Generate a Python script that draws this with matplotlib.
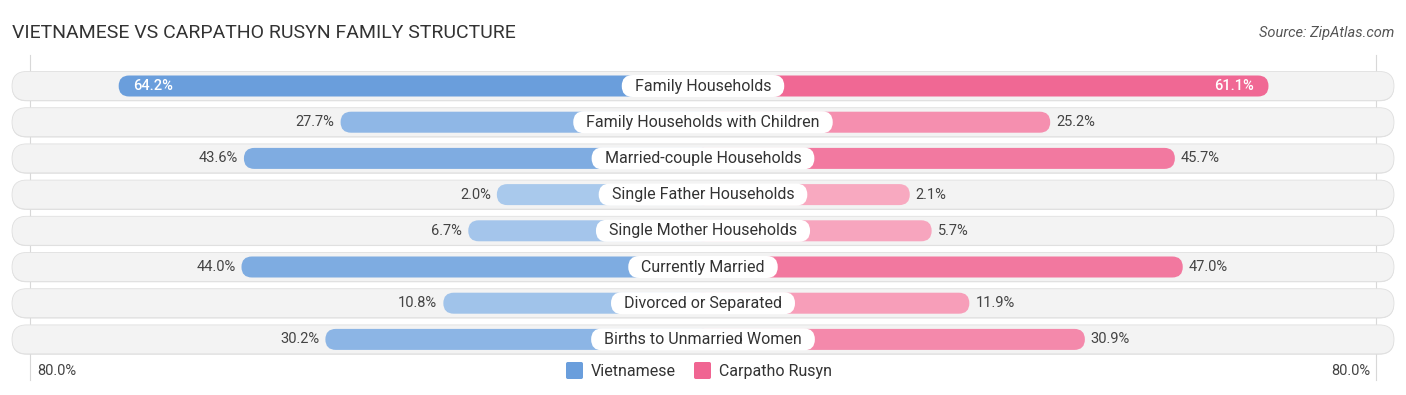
import matplotlib
matplotlib.use("Agg")
import matplotlib.pyplot as plt
from matplotlib.patches import FancyBboxPatch
import matplotlib.colors as mcolors
import numpy as np

plt.rcParams['font.family'] = ['Roboto', 'DejaVu Sans']

categories = ["Family Households", "Family Households with Children", "Married-couple Households",
              "Single Father Households", "Single Mother Households", "Currently Married",
              "Divorced or Separated", "Births to Unmarried Women"]
vietnamese = [64.2, 27.7, 43.6, 2.0, 6.7, 44.0, 10.8, 30.2]
carpatho = [61.1, 25.2, 45.7, 2.1, 5.7, 47.0, 11.9, 30.9]
series_names = ["Vietnamese", "Carpatho Rusyn"]
title = "VIETNAMESE VS CARPATHO RUSYN FAMILY STRUCTURE"
source = "Source: ZipAtlas.com"
axis_max = 80.0

W, H = 1406, 395
K = 6.08            # px per percent unit
OFF = 194 / K       # offset of bar beyond center (label zone)
ROW0 = 86 / K
ROWSTEP = 36.2 / K

fig = plt.figure(figsize=(W / 100, H / 100), dpi=100)
ax = fig.add_axes([0, 0, 1, 1])
ax.set_xlim(-W / 2 / K, W / 2 / K)
ax.set_ylim(H / K, 0)
ax.set_aspect('equal')
ax.axis('off')

blue_dark = np.array(mcolors.to_rgb("#6a9edc"))
blue_light = np.array(mcolors.to_rgb("#abcaed"))
pink_dark = np.array(mcolors.to_rgb("#f06592"))
pink_light = np.array(mcolors.to_rgb("#f8abc2"))


def shade(light, dark, v):
    t = min(max(v / 64.0, 0), 1)
    return tuple(light + (dark - light) * t)


pill_half = 691 / K
pill_h = 29 / K
bar_h = 21 / K
lab_h = 22 / K
lab_padx = 13 / K

# gridlines at axis extremes
grid_x = 673 / K
for gx in (-grid_x, grid_x):
    ax.plot([gx, gx], [55 / K, 380 / K], color="#d8d8d8", lw=0.8, zorder=0)

fig.canvas.draw()
renderer = fig.canvas.get_renderer()

for i, (cat, v1, v2) in enumerate(zip(categories, vietnamese, carpatho)):
    yc = ROW0 + i * ROWSTEP
    # background pill (shadow + fill)
    r = pill_h / 2
    ax.add_patch(FancyBboxPatch((-pill_half + r, yc - pill_h / 2 + r + 0.12), 2 * pill_half - 2 * r, pill_h - 2 * r,
                                boxstyle=f"round,pad={r}", fc="#dcdcdc", ec="none", zorder=1))
    ax.add_patch(FancyBboxPatch((-pill_half + r, yc - pill_h / 2 + r), 2 * pill_half - 2 * r, pill_h - 2 * r,
                                boxstyle=f"round,pad={r}", fc="#f3f3f3", ec="#e0e0e0", lw=0.6, zorder=1))
    br = bar_h / 2
    # left bar
    L = OFF + v1
    ax.add_patch(FancyBboxPatch((-L + br, yc - bar_h / 2 + br), L - br, bar_h - 2 * br,
                                boxstyle=f"round,pad={br}", fc=shade(blue_light, blue_dark, v1), ec="none", zorder=2))
    R = OFF + v2
    ax.add_patch(FancyBboxPatch((0, yc - bar_h / 2 + br), R - br, bar_h - 2 * br,
                                boxstyle=f"round,pad={br}", fc=shade(pink_light, pink_dark, v2), ec="none", zorder=2))
    # category label with white rounded box sized from text extent
    t = ax.text(0, yc, cat, ha='center', va='center', fontsize=11.5, color="#333333", zorder=5)
    bb = t.get_window_extent(renderer=renderer)
    tw = bb.width / K
    lr = lab_h / 2
    bw = tw + 2 * lab_padx
    ax.add_patch(FancyBboxPatch((-bw / 2 + lr, yc - lab_h / 2 + lr), bw - 2 * lr, lab_h - 2 * lr,
                                boxstyle=f"round,pad={lr}", fc="white", ec="none", zorder=4))
    # value labels
    if v1 > 55:
        ax.text(-L + 14 / K, yc, f"{v1:.1f}%", ha='left', va='center', fontsize=10.5, color="white",
                fontweight='medium', zorder=5)
    else:
        ax.text(-L - 6 / K, yc, f"{v1:.1f}%", ha='right', va='center', fontsize=10.5, color="#444444", zorder=5)
    if v2 > 55:
        ax.text(R - 15 / K, yc, f"{v2:.1f}%", ha='right', va='center', fontsize=10.5, color="white",
                fontweight='medium', zorder=5)
    else:
        ax.text(R + 6 / K, yc, f"{v2:.1f}%", ha='left', va='center', fontsize=10.5, color="#444444", zorder=5)

# axis labels
ax.text(-(W / 2 - 37) / K, 371 / K, f"{axis_max:.1f}%", ha='left', va='center', fontsize=10.5, color="#444444")
ax.text((W / 2 - 36) / K, 371 / K, f"{axis_max:.1f}%", ha='right', va='center', fontsize=10.5, color="#444444")

# legend
sq = 17 / K
lx1 = (566 - W / 2) / K
ax.add_patch(FancyBboxPatch((lx1, 362 / K), sq, sq, boxstyle="round,pad=0,rounding_size=0.3",
                            fc="#6a9edc", ec="none"))
ax.text(lx1 + sq + 8 / K, 371 / K, series_names[0], ha='left', va='center', fontsize=11.5, color="#333333")
lx2 = (694 - W / 2) / K
ax.add_patch(FancyBboxPatch((lx2, 362 / K), sq, sq, boxstyle="round,pad=0,rounding_size=0.3",
                            fc="#f06592", ec="none"))
ax.text(lx2 + sq + 8 / K, 371 / K, series_names[1], ha='left', va='center', fontsize=11.5, color="#333333")

# title and source
fig.text(12 / W, 1 - 33 / H, title, ha='left', va='center', fontsize=14, color="#333333")
fig.text(1 - 12 / W, 1 - 33 / H, source, ha='right', va='center', fontsize=10.5, color="#555555", style='italic')

fig.savefig("out.png", dpi=100)
